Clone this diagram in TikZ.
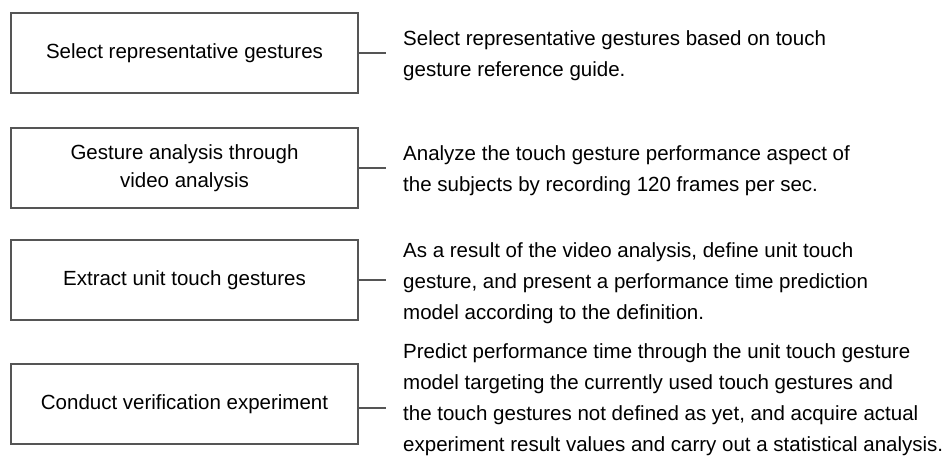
\documentclass[tikz,border=0pt]{standalone}
\usepackage{fontspec}
\setmainfont{Liberation Sans}
\definecolor{edgegray}{HTML}{555555}
\tikzset{
  stepbox/.style={draw=edgegray, line width=1.3pt, rectangle, minimum width=347pt, minimum height=80pt,
    inner sep=0pt, align=center, font=\fontsize{20.5}{28}\selectfont, text=black},
  desc/.style={anchor=north west, inner sep=0pt, align=left, font=\fontsize{20.5}{31}\selectfont, text=black},
  link/.style={draw=edgegray, line width=1.3pt}
}
\begin{document}
\begin{tikzpicture}[x=1pt,y=-1pt]
\useasboundingbox (0,0) rectangle (945,456);
% boxes
\node[stepbox] (b1) at (184.5,53) {Select representative gestures};
\node[stepbox] (b2) at (184.5,168) {Gesture analysis through\\video analysis};
\node[stepbox] (b3) at (184.5,280) {Extract unit touch gestures};
\node[stepbox] (b4) at (184.5,404) {Conduct verification experiment};
% connector ends
\coordinate (e1) at (386,53);
\coordinate (e2) at (386,168);
\coordinate (e3) at (386,280);
\coordinate (e4) at (386,408);
\draw[link] (b1.east) -- (e1);
\draw[link] (b2.east) -- (e2);
\draw[link] (b3.east) -- (e3);
\draw[link] ([yshift=-4pt]b4.east) -- (e4);
% descriptions (top = first baseline - 0.7*31)
\node[desc] (d1) at (403,23.1) {\strut Select representative gestures based on touch\\gesture reference guide.};
\node[desc] (d2) at (403,138.1) {\strut Analyze the touch gesture performance aspect of\\the subjects by recording 120 frames per sec.};
\node[desc] (d3) at (403,235.6) {\strut As a result of the video analysis, define unit touch\\gesture, and present a performance time prediction\\model according to the definition.};
\node[desc] (d4) at (403,336.3) {\strut Predict performance time through the unit touch gesture\\model targeting the currently used touch gestures and\\the touch gestures not defined as yet, and acquire actual\\experiment result values and carry out a statistical analysis.};
\end{tikzpicture}
\end{document}
